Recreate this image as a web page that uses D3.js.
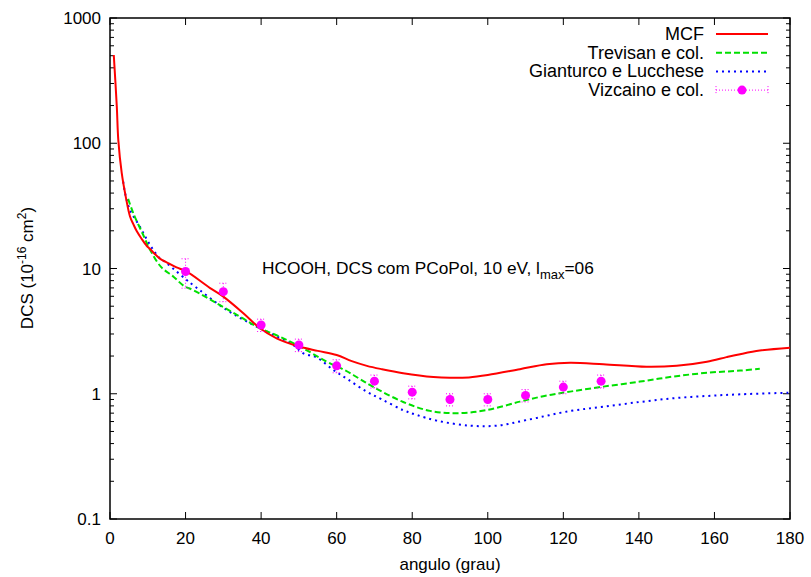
<!DOCTYPE html>
<html lang="pt">
<head>
    <title>DCS HCOOH</title>
    <meta charset="UTF-8">
    <style>
        body{margin:0;background:#fff;}
        svg{display:block;}
        text{font-family:"Liberation Sans",Arial,Helvetica,sans-serif;}
    </style>
</head>
<body>
    <div id="chart"></div>
    <script src="https://cdn.jsdelivr.net/npm/d3@7/dist/d3.min.js"></script>
    <script>
        // MCF
        var mcfAng=[1,1.8,2.2,3.1,4.2,5.3,6.2,7.1,8.4,9.7,10.6,13.2,15,17.6,19.9,26.5,30,35.3,39.7,44.1,50.3,55,60,64,68,72,77.6,85.6,90,95,100,108.5,115.6,121.8,130.6,142,150,158,163.2,166.8,172,180];
        var mcfVal=[507,196,106,57.9,37,26,22.5,19.8,17.2,15.2,14.3,12,11.2,10.2,9.6,6.98,5.96,4.39,3.33,2.77,2.37,2.2,2.04,1.82,1.67,1.57,1.46,1.36,1.34,1.35,1.41,1.57,1.72,1.77,1.72,1.64,1.67,1.8,1.96,2.07,2.21,2.33];
        // Trevisan e col.
        var trevAng=[4.8,6.2,8.8,10.6,13.5,16.8,19.6,22,28.2,34.4,39.7,45,51.2,57.4,62,66,70,77.6,84.7,91.8,99.7,108.5,115,121.8,130.6,140.3,149,158,166.8,172];
        var trevVal=[36,27.5,18.5,14.1,10.3,8.6,7.25,6.73,5.28,4.12,3.33,2.85,2.3,1.8,1.55,1.32,1.12,0.86,0.73,0.7,0.74,0.865,0.96,1.04,1.14,1.25,1.37,1.47,1.53,1.58];
        // Gianturco e Lucchese
        var giAng=[3.5,4,5.3,7.9,10.6,13.2,14.6,17.2,20.3,22,30.9,37.1,42.4,48.5,51.2,54.7,59.1,63,67.9,72,77.6,81,86.5,95.3,102.4,110.3,121.8,130.6,140.3,149,158,166.8,180];
        var giVal=[49.3,39.8,29.3,21.6,15.4,12.05,11.3,9.7,8.1,7.38,4.66,3.65,3.04,2.45,2.1,1.95,1.55,1.3,1.04,0.9,0.74,0.68,0.61,0.556,0.556,0.617,0.728,0.788,0.86,0.92,0.96,0.99,1.02];
        // Vizcaino e col. (experimental)
        var expAng=[20,30,40,50,60,70,80,90,100,110,120,130];
        var expVal=[9.46,6.53,3.54,2.45,1.67,1.26,1.03,0.90,0.90,0.97,1.13,1.26];
        var expErr=[2.5,1.1,0.4,0.28,0.2,0.15,0.12,0.1,0.1,0.11,0.13,0.15];

        var xTicks=[0,20,40,60,80,100,120,140,160,180];
        var yTicks=[0.1,1,10,100,1000];
        var legendNames=['MCF','Trevisan e col.','Gianturco e Lucchese','Vizcaino e col.'];

        function zip(a,b){
            return a.map(function(d,i){return {x:d,y:b[i]};});
        }

        function draw(){
            var width=811,height=577;
            var left=110,right=790,top=18,bottom=519;

            var oSvg=d3.select('#chart').append('svg')
                .attr('width',width).attr('height',height);

            var xScale=d3.scaleLinear().domain([0,180]).range([left,right]);
            var yScale=d3.scaleLog().domain([0.1,1000]).range([bottom,top]);

            // minor ticks on log axis
            var minor=[];
            yTicks.slice(0,-1).forEach(function(t){
                for(var k=2;k<10;k++) minor.push(t*k);
            });

            var g=oSvg.append('g');
            // left/right ticks
            g.selectAll('line.ymaj').data(yTicks).enter().append('line')
                .attr('x1',left).attr('x2',left+7)
                .attr('y1',function(d){return yScale(d)}).attr('y2',function(d){return yScale(d)})
                .attr('stroke','#000');
            g.selectAll('line.ymajr').data(yTicks).enter().append('line')
                .attr('x1',right).attr('x2',right-7)
                .attr('y1',function(d){return yScale(d)}).attr('y2',function(d){return yScale(d)})
                .attr('stroke','#000');
            g.selectAll('line.ymin').data(minor).enter().append('line')
                .attr('x1',left).attr('x2',left+4)
                .attr('y1',function(d){return yScale(d)}).attr('y2',function(d){return yScale(d)})
                .attr('stroke','#000');
            g.selectAll('line.yminr').data(minor).enter().append('line')
                .attr('x1',right).attr('x2',right-4)
                .attr('y1',function(d){return yScale(d)}).attr('y2',function(d){return yScale(d)})
                .attr('stroke','#000');
            // bottom/top ticks
            g.selectAll('line.xb').data(xTicks).enter().append('line')
                .attr('x1',function(d){return xScale(d)}).attr('x2',function(d){return xScale(d)})
                .attr('y1',bottom).attr('y2',bottom-7)
                .attr('stroke','#000');
            g.selectAll('line.xt').data(xTicks).enter().append('line')
                .attr('x1',function(d){return xScale(d)}).attr('x2',function(d){return xScale(d)})
                .attr('y1',top).attr('y2',top+7)
                .attr('stroke','#000');

            // tick labels
            g.selectAll('text.xl').data(xTicks).enter().append('text')
                .attr('x',function(d){return xScale(d)}).attr('y',bottom+25)
                .attr('text-anchor','middle').style('font-size','17px')
                .text(function(d){return d});
            g.selectAll('text.yl').data(yTicks).enter().append('text')
                .attr('x',left-9).attr('y',function(d){return yScale(d)+6})
                .attr('text-anchor','end').style('font-size','17px')
                .text(function(d){return d});

            // frame
            oSvg.append('rect').attr('x',left).attr('y',top)
                .attr('width',right-left).attr('height',bottom-top)
                .attr('fill','none').attr('stroke','#000').attr('stroke-width',1.5);

            // axis titles
            oSvg.append('text').attr('x',(left+right)/2).attr('y',570)
                .attr('text-anchor','middle').style('font-size','17px')
                .text('angulo (grau)');
            var yt=oSvg.append('text').attr('transform','translate(33,268) rotate(-90)')
                .attr('text-anchor','middle').style('font-size','17px');
            yt.append('tspan').text('DCS (10');
            yt.append('tspan').attr('dy',-7).style('font-size','12px').text('-16');
            yt.append('tspan').attr('dy',7).text(' cm');
            yt.append('tspan').attr('dy',-7).style('font-size','12px').text('2');
            yt.append('tspan').attr('dy',7).text(')');

            // annotation
            var an=oSvg.append('text').attr('x',262).attr('y',274).style('font-size','17.3px');
            an.append('tspan').text('HCOOH, DCS com PCoPol, 10 eV, l');
            an.append('tspan').attr('dy',5).style('font-size','13px').text('max');
            an.append('tspan').attr('dy',-5).text('=06');

            var line=d3.line()
                .x(function(d){return xScale(d.x)})
                .y(function(d){return yScale(d.y)})
                .curve(d3.curveCatmullRom.alpha(0.5));

            var curves=[
                {data:zip(giAng,giVal),color:'#0000ff',dash:'2,4'},
                {data:zip(trevAng,trevVal),color:'#00e000',dash:'6,3'},
                {data:zip(mcfAng,mcfVal),color:'#ff0000',dash:null}
            ];
            var plot=oSvg.append('g');
            curves.forEach(function(c){
                plot.append('path').attr('d',line(c.data))
                    .attr('fill','none').attr('stroke',c.color)
                    .attr('stroke-width',2)
                    .attr('stroke-dasharray',c.dash);
            });

            // experimental points with error bars
            var exp=expAng.map(function(d,i){return {x:d,y:expVal[i],e:expErr[i]};});
            var eb=plot.append('g').selectAll('g').data(exp).enter().append('g');
            eb.append('line')
                .attr('x1',function(d){return xScale(d.x)}).attr('x2',function(d){return xScale(d.x)})
                .attr('y1',function(d){return yScale(d.y+d.e)}).attr('y2',function(d){return yScale(d.y-d.e)})
                .attr('stroke','#ff00ff').attr('stroke-dasharray','1,2');
            eb.append('line')
                .attr('x1',function(d){return xScale(d.x)-4}).attr('x2',function(d){return xScale(d.x)+4})
                .attr('y1',function(d){return yScale(d.y+d.e)}).attr('y2',function(d){return yScale(d.y+d.e)})
                .attr('stroke','#ff00ff').attr('stroke-dasharray','1,2');
            eb.append('line')
                .attr('x1',function(d){return xScale(d.x)-4}).attr('x2',function(d){return xScale(d.x)+4})
                .attr('y1',function(d){return yScale(d.y-d.e)}).attr('y2',function(d){return yScale(d.y-d.e)})
                .attr('stroke','#ff00ff').attr('stroke-dasharray','1,2');
            eb.append('circle')
                .attr('cx',function(d){return xScale(d.x)}).attr('cy',function(d){return yScale(d.y)})
                .attr('r',4.5).attr('fill','#ff00ff');

            // legend
            var lg=oSvg.append('g');
            var styles=[
                {color:'#ff0000',dash:null},
                {color:'#00e000',dash:'6,3'},
                {color:'#0000ff',dash:'2,4'},
                {color:'#ff00ff',dash:'1,2'}
            ];
            legendNames.forEach(function(n,i){
                var yy=34+i*18.7;
                lg.append('text').attr('x',704).attr('y',yy+6)
                    .attr('text-anchor','end').style('font-size','18px').text(n);
                lg.append('line').attr('x1',716).attr('x2',768)
                    .attr('y1',yy).attr('y2',yy)
                    .attr('stroke',styles[i].color)
                    .attr('stroke-width',i==3?1:2)
                    .attr('stroke-dasharray',styles[i].dash);
                if(i==3){
                    lg.append('line').attr('x1',716).attr('x2',716).attr('y1',yy-4).attr('y2',yy+4)
                        .attr('stroke','#ff00ff').attr('stroke-dasharray','1,2');
                    lg.append('line').attr('x1',768).attr('x2',768).attr('y1',yy-4).attr('y2',yy+4)
                        .attr('stroke','#ff00ff').attr('stroke-dasharray','1,2');
                    lg.append('circle').attr('cx',742).attr('cy',yy).attr('r',4.5).attr('fill','#ff00ff');
                }
            });
        }
        draw();
    </script>
</body>
</html>
